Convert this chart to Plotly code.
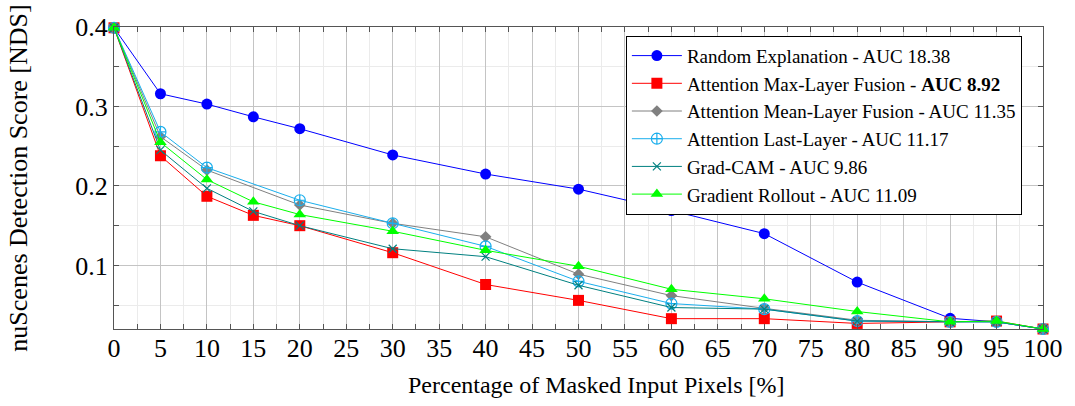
import plotly.graph_objects as go

# Masking percentages and nuScenes detection scores per explanation method
x_all = [0, 5, 10, 15, 20, 30, 40, 50, 60, 70, 80, 90, 95, 100]
x_no15 = [0, 5, 10, 20, 30, 40, 50, 60, 70, 80, 90, 95, 100]

random_expl = [0.399, 0.316, 0.303, 0.287, 0.272, 0.239, 0.215, 0.196, 0.169, 0.140, 0.079, 0.0335, 0.029, 0.020]
attn_max = [0.399, 0.238, 0.187, 0.163, 0.150, 0.116, 0.076, 0.056, 0.033, 0.033, 0.027, 0.029, 0.030, 0.020]
attn_mean = [0.399, 0.262, 0.220, 0.176, 0.153, 0.136, 0.089, 0.062, 0.046, 0.031, 0.029, 0.029, 0.020]
attn_last = [0.399, 0.268, 0.223, 0.182, 0.153, 0.124, 0.080, 0.052, 0.045, 0.030, 0.029, 0.029, 0.020]
grad_cam = [0.399, 0.245, 0.197, 0.168, 0.150, 0.121, 0.111, 0.075, 0.047, 0.045, 0.030, 0.029, 0.029, 0.020]
grad_rollout = [0.399, 0.255, 0.208, 0.180, 0.164, 0.143, 0.119, 0.099, 0.070, 0.058, 0.042, 0.029, 0.030, 0.020]

x_ticks = list(range(0, 101, 5))
x_minor = [v + 2.5 for v in range(0, 100, 5)]
y_ticks = [0.1, 0.2, 0.3, 0.4]
y_ticktext = ["0.1", "0.2", "0.3", "0.4"]
y_minor = [0.05, 0.15, 0.25, 0.35]

series = [
    ("Random Explanation - AUC 18.38", x_all, random_expl, "#0000ff", "circle", 11),
    ("Attention Max-Layer Fusion - <b>AUC 8.92</b>", x_all, attn_max, "#ff0000", "square", 11),
    ("Attention Mean-Layer Fusion - AUC 11.35", x_no15, attn_mean, "#808080", "diamond", 9),
    ("Attention Last-Layer - AUC 11.17", x_no15, attn_last, "#1aaeec", "circle-cross-open", 11),
    ("Grad-CAM - AUC 9.86", x_all, grad_cam, "#008080", "x-thin-open", 8),
    ("Gradient Rollout - AUC 11.09", x_all, grad_rollout, "#00ff00", "triangle-up", 11),
]

fig = go.Figure()
for name, xs, ys, color, symbol, size in series:
    fig.add_trace(go.Scatter(
        x=xs, y=ys, name=name, mode="lines+markers",
        line=dict(color=color, width=1),
        marker=dict(color=color, symbol=symbol, size=size,
                    line=dict(color=color, width=1.2 if "open" in symbol else 0)),
        cliponaxis=False,
    ))

font_family = "Liberation Serif"
fig.update_layout(
    width=1075, height=406,
    margin=dict(l=114, r=23, t=27, b=77),
    plot_bgcolor="white", paper_bgcolor="white",
    font=dict(family=font_family, size=24, color="black"),
    legend=dict(
        x=0.551, y=0.971, xanchor="left", yanchor="top",
        bgcolor="white", bordercolor="black", borderwidth=1,
        font=dict(family=font_family, size=19, color="black"),
        itemwidth=50, tracegroupgap=0,
    ),
    xaxis=dict(
        range=[0, 100], tickmode="array", tickvals=x_ticks,
        showgrid=True, gridcolor="#c4c4c4", gridwidth=1,
        showline=True, linecolor="#555555", linewidth=1, mirror="ticks",
        ticks="inside", ticklen=5, tickcolor="#555555",
        zeroline=False, ticklabelstandoff=-4,
        minor=dict(tickmode="array", tickvals=x_minor, showgrid=True,
                   gridcolor="#ebebeb", ticks="inside", ticklen=5, tickcolor="#555555"),
        tickfont=dict(family=font_family, size=26),
    ),
    yaxis=dict(
        range=[0.02, 0.4], tickmode="array", tickvals=y_ticks, ticktext=y_ticktext,
        showgrid=True, gridcolor="#c4c4c4", gridwidth=1,
        showline=True, linecolor="#555555", linewidth=1, mirror="ticks",
        ticks="inside", ticklen=5, tickcolor="#555555",
        zeroline=False,
        minor=dict(tickmode="array", tickvals=y_minor, showgrid=True,
                   gridcolor="#ebebeb", ticks="inside", ticklen=5, tickcolor="#555555"),
        title=dict(text="nuScenes Detection Score [NDS]", standoff=40,
                   font=dict(family=font_family, size=26)),
        tickfont=dict(family=font_family, size=26),
    ),
    annotations=[dict(
        text="Percentage of Masked Input Pixels [%]",
        xref="paper", yref="paper", x=0.519, y=-0.185,
        xanchor="center", yanchor="middle", showarrow=False,
        font=dict(family=font_family, size=24, color="black"),
    )],
)

fig.write_html("out.html")
